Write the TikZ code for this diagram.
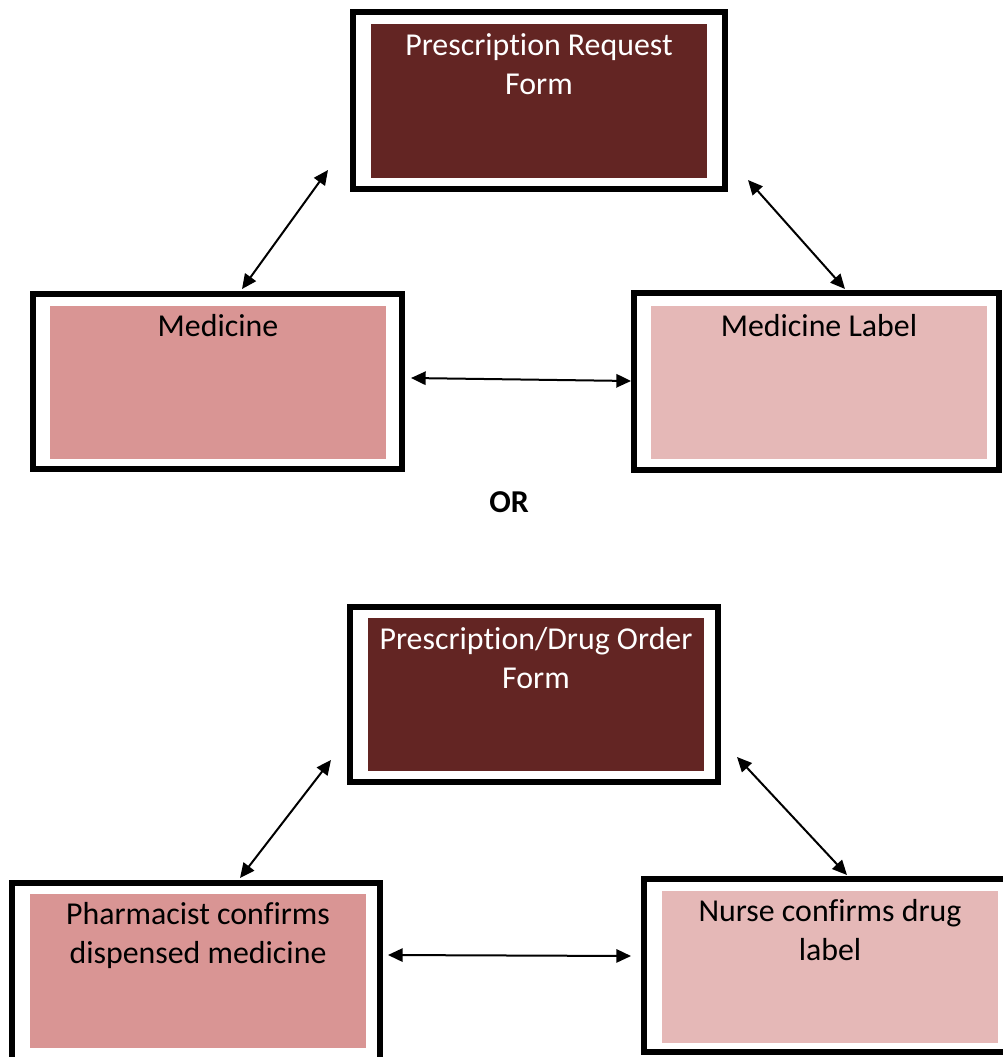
\documentclass[tikz,border=0pt]{standalone}
\usepackage{fontspec}
\setmainfont{Carlito}[Ligatures={NoCommon,NoContextual}]
\usetikzlibrary{arrows.meta}
\definecolor{maroon}{HTML}{632523}
\definecolor{pinkA}{HTML}{D99594}
\definecolor{pinkB}{HTML}{E5B8B7}
\tikzset{
  frame/.style={draw=black, line width=4.5pt, rectangle, inner sep=0pt, outer sep=0pt},
  fillbox/.style={rectangle, inner sep=0pt, outer sep=0pt, minimum width=252pt},
  txt/.style={inner sep=0pt, align=center, anchor=base, font=\fontsize{23.9pt}{29.25pt}\selectfont},
  conn/.style={{Triangle[length=11pt,width=10pt]}-{Triangle[length=11pt,width=10pt]}, line width=1.5pt}
}
\begin{document}
\begin{tikzpicture}[x=0.75pt,y=-0.75pt]
\useasboundingbox (0,0) rectangle (1003,1057);
\clip (0,0) rectangle (1003,1057);
\fill[white] (0,0) rectangle (1003,1057);
% top diagram
\node[frame, minimum width=279pt, minimum height=132.75pt] (f1) at (539,100.5) {};
\node[fillbox, fill=maroon, minimum height=115.5pt] (i1) at (539,101) {};
\node[txt, text=white] (t1) at (539,94) {Prescription Request\\Form};

\node[frame, minimum width=276.75pt, minimum height=131.25pt] (f2) at (217.5,381.5) {};
\node[fillbox, fill=pinkA, minimum height=114.75pt] (i2) at (218,382.5) {};
\node[txt] (t2) at (218,336) {Medicine};

\node[frame, minimum width=273.75pt, minimum height=132.75pt] (f3) at (816.5,381.5) {};
\node[fillbox, fill=pinkB, minimum height=114.75pt] (i3) at (819,382.5) {};
\node[txt] (t3) at (819,336) {Medicine Label};

\node[txt, font=\fontsize{23.9pt}{29.25pt}\selectfont\bfseries] (or) at (509,512) {OR};

% bottom diagram
\node[frame, minimum width=276pt, minimum height=131.25pt] (f4) at (534,694.5) {};
\node[fillbox, fill=maroon, minimum height=114.75pt] (i4) at (536,694.5) {};
\node[txt, text=white] (t4) at (536,688) {Prescription/Drug Order\\Form};

\node[frame, minimum width=276pt, minimum height=135pt] (f5) at (196,973) {};
\node[fillbox, fill=pinkA, minimum height=115.5pt] (i5) at (198,971) {};
\node[txt] (t5) at (198,963) {Pharmacist confirms\\dispensed medicine};

\node[frame, minimum width=273pt, minimum height=129.75pt] (f6) at (826,965.5) {};
\node[fillbox, fill=pinkB, minimum height=114pt] (i6) at (830,967) {};
\node[txt] (t6) at (830,960) {Nurse confirms drug\\label};

% connector ends
\coordinate (a1) at (328,170);
\coordinate (a2) at (242,289);
\coordinate (b1) at (748,180);
\coordinate (b2) at (845,289);
\coordinate (c1) at (411,378);
\coordinate (c2) at (631,381);
\coordinate (d1) at (331,760);
\coordinate (d2) at (240,878);
\coordinate (e1) at (737,757);
\coordinate (e2) at (847,875);
\coordinate (g1) at (388,955);
\coordinate (g2) at (631,956);

\draw[conn] (a1) -- (a2);
\draw[conn] (b1) -- (b2);
\draw[conn] (c1) -- (c2);
\draw[conn] (d1) -- (d2);
\draw[conn] (e1) -- (e2);
\draw[conn] (g1) -- (g2);
\end{tikzpicture}
\end{document}
